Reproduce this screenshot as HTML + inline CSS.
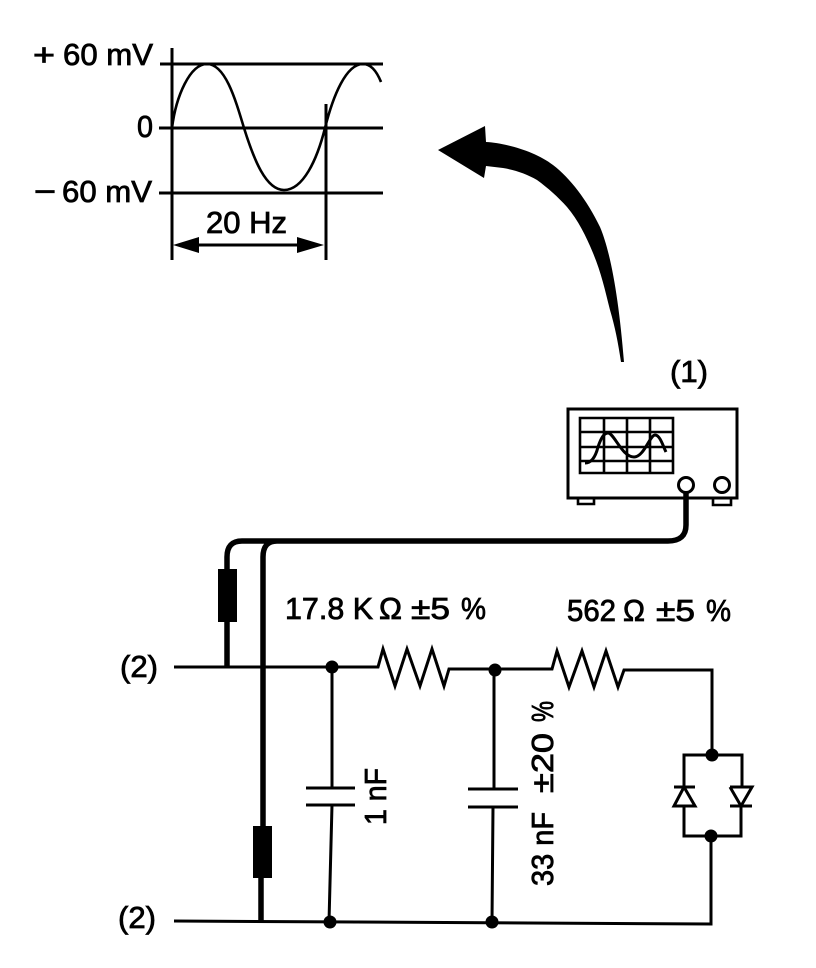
<!DOCTYPE html>
<html><head><meta charset="utf-8"><style>
html,body{margin:0;padding:0;background:#fff}
svg{display:block}
text{font-family:"Liberation Sans",sans-serif;font-size:31px;fill:#000;stroke:#000;stroke-width:.8}
</style></head><body>
<svg width="816" height="968" viewBox="0 0 816 968" xmlns="http://www.w3.org/2000/svg">
<g fill="none" stroke="#000" stroke-width="3">
<path d="M172 48V260M326 104V260M160 64H383M159 128H383M159 193H383"/>
<path d="M172 128C176 96 190 64 207 64C225 64 235 98 244 128C254 160 266 190 284 190C303 190 317 160 325 128C333 96 346 64 363 64C371 64 377 72 381 82" stroke-width="2.6"/>
<path d="M199 245H297"/>
<path d="M568 409H737V498H568Z"/>
<path d="M580 418H673V473H580ZM604 418V473M627 418V473M650 418V473M580 432H673M580 447H673M580 461H673" stroke-width="2.6"/>
<path d="M585 463C592 463 596 455 598 447C601 438 604 433 608 433C614 433 622 457 634 457C644 457 650 435 655 435C660 435 663 446 666 452" stroke-width="3"/>
<circle cx="686" cy="485" r="7.5"/><circle cx="722" cy="485" r="7.5"/>
<path d="M578 498V504H594V498M713 498V505H731V498" stroke-width="2.6"/>
<path d="M686 492V525Q686 541 668 541H242Q227 541 227 557V667M277 541Q263 541 263 557V826M261 878V921" stroke-width="5.5"/>
<path d="M174 667H378L383 649L395 686L407 649L420 686L432 649L444 686L449 669H552L557 651L569 687L582 651L594 687L606 651L618 687L624 670H712V755"/>
<path d="M332 667V788M306 788H355M306 805H355M332 805L329 922M494 670V789M468 789H518M468 807H518M493 807L492 922M174 921L711 924V836"/>
<path d="M684 787V755H742V787M674 787H695M684 787L674 806H695L684 787M684 806V836H741V806M730 787H752L741 806L730 787M730 806H752"/>
</g>
<path d="M173 245L199 237V253ZM324 245L297 237V253Z"/>
<path d="M438 150L485 126L486 142C505 143 535 151 553 165C570 178 587 200 600 227C611 253 619 300 624 362H621C618 342 615 327 610 310C605 290 601 272 593 253C586 236 578 220 567 207C558 197 548 188 537 180C527 174 515 170 503 168L486 166L484 178Z"/>
<rect x="218" y="569" width="19" height="53"/>
<rect x="253" y="826" width="19" height="52"/>
<circle cx="332" cy="667" r="6.5"/><circle cx="495" cy="670" r="6.5"/><circle cx="330" cy="922" r="6.5"/><circle cx="492" cy="922" r="6.5"/><circle cx="712" cy="755" r="6.5"/><circle cx="711" cy="836" r="6.5"/>
<text x="33" y="65" textLength="22" lengthAdjust="spacingAndGlyphs">+</text>
<text x="63" y="65" textLength="90" lengthAdjust="spacingAndGlyphs">60 mV</text>
<text x="137" y="137" textLength="16" lengthAdjust="spacingAndGlyphs">0</text>
<text x="34" y="202" textLength="22" lengthAdjust="spacingAndGlyphs">−</text>
<text x="62" y="202" textLength="90" lengthAdjust="spacingAndGlyphs">60 mV</text>
<text x="206" y="233" textLength="81" lengthAdjust="spacingAndGlyphs">20 Hz</text>
<text x="670" y="382" textLength="38" lengthAdjust="spacingAndGlyphs">(1)</text>
<text x="285" y="619" textLength="88" lengthAdjust="spacingAndGlyphs">17.8 K</text>
<text x="379" y="619" textLength="23" lengthAdjust="spacingAndGlyphs">Ω</text>
<text x="411" y="619" textLength="39" lengthAdjust="spacingAndGlyphs">±5</text>
<text x="461" y="619" textLength="25" lengthAdjust="spacingAndGlyphs">%</text>
<text x="567" y="621" textLength="49" lengthAdjust="spacingAndGlyphs">562</text>
<text x="623" y="621" textLength="22" lengthAdjust="spacingAndGlyphs">Ω</text>
<text x="656" y="621" textLength="39" lengthAdjust="spacingAndGlyphs">±5</text>
<text x="706" y="621" textLength="25" lengthAdjust="spacingAndGlyphs">%</text>
<text x="120" y="677" textLength="38" lengthAdjust="spacingAndGlyphs">(2)</text>
<text x="118" y="928" textLength="38" lengthAdjust="spacingAndGlyphs">(2)</text>
<text transform="translate(386 825) rotate(-90)" textLength="57" lengthAdjust="spacingAndGlyphs">1 nF</text>
<text transform="translate(553 886) rotate(-90)" textLength="74" lengthAdjust="spacingAndGlyphs">33 nF</text>
<text transform="translate(553 793) rotate(-90)" textLength="60" lengthAdjust="spacingAndGlyphs">±20</text>
<text transform="translate(553 722) rotate(-90)" textLength="21" lengthAdjust="spacingAndGlyphs">%</text>
</svg>
</body></html>
